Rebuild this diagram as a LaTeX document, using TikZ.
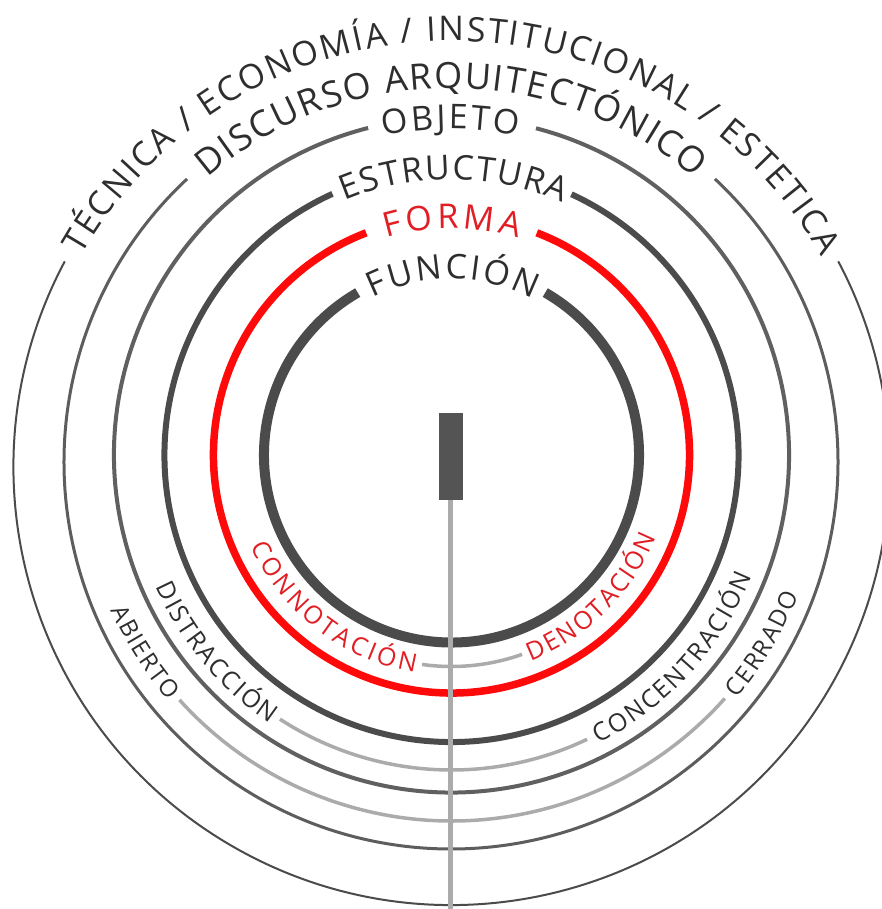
\documentclass[tikz,border=0pt]{standalone}
\usepackage{fontspec}
\setmainfont{Open Sans}
\usetikzlibrary{decorations.text}

\definecolor{ringdark}{HTML}{4B4B4B}
\definecolor{ringmid}{HTML}{606060}
\definecolor{ringred}{HTML}{FF0A0A}
\definecolor{ringlight}{HTML}{ABABAB}
\definecolor{txtdark}{HTML}{2E2E2E}
\definecolor{txtred}{HTML}{E01E24}

% font sizes for the curved labels
\newcommand\ringbig{\fontsize{36}{36}\selectfont}
\newcommand\ringmed{\fontsize{34}{34}\selectfont}
\newcommand\ringouter{\fontsize{34}{34}\selectfont}
\newcommand\ringsmall{\fontsize{25}{25}\selectfont}
\newcommand\ringtiny{\fontsize{24}{24}\selectfont}

\begin{document}
\begin{tikzpicture}[x=1pt,y=1pt,
  ringline/.style={line cap=butt},
  curvelabel/.style 2 args={decorate, decoration={text along path,
      text={|#1|#2}, text align=fit to path, text color=txtdark}},
  curvered/.style 2 args={decorate, decoration={text along path,
      text={|#1|#2}, text align=fit to path, text color=txtred}}
]
\useasboundingbox (-451.5,-454) rectangle (430.5,455);

% centres of the rings
\coordinate (c) at (0,0);
\coordinate (cd) at (-0.5,-7);
\coordinate (co) at (0,-12);

% ---- rings, each open at the top for its label ----
\draw[ringline, ringdark, line width=10]
  (c) ++(120:187.5) arc[start angle=120, end angle=420, radius=187.5];
\draw[ringline, ringred, line width=7.5]
  (c) ++(111:238) arc[start angle=111, end angle=429, radius=238];
\draw[ringline, ringdark, line width=6]
  (c) ++(114.5:287) arc[start angle=114.5, end angle=425.3, radius=287];
\draw[ringline, ringmid, line width=4]
  (c) ++(104.3:337.5) arc[start angle=104.3, end angle=435.5, radius=337.5];
\draw[ringline, ringdark!90, line width=3]
  (cd) ++(133:387) arc[start angle=133, end angle=407, radius=387];
\draw[ringline, ringdark, line width=2]
  (co) ++(152:438) arc[start angle=152, end angle=388, radius=438];

% ---- light arcs joining the lower labels ----
\draw[ringline, ringlight, line width=3.5]
  (c) ++(262:211.5) arc[start angle=262, end angle=289.5, radius=211.5];
\draw[ringline, ringlight, line width=3.5]
  (c) ++(237:315) arc[start angle=237, end angle=295.5, radius=315];
\draw[ringline, ringlight, line width=3.5]
  (c) ++(222:366) arc[start angle=222, end angle=318.3, radius=366];

% ---- upper labels ----
\path[curvelabel={\ringmed}{FUNCIÓN}]
  (c) ++(116.5:176) arc[start angle=116.5, end angle=62.5, radius=176];
\path[curvered={\ringmed}{FORMA}]
  (c) ++(106.7:226.5) arc[start angle=106.7, end angle=72.9, radius=226.5];
\path[curvelabel={\ringmed}{ESTRUCTURA}]
  (c) ++(112.8:275.5) arc[start angle=112.8, end angle=66.2, radius=275.5];
\path[curvelabel={\ringmed}{OBJETO}]
  (c) ++(102:326) arc[start angle=102, end angle=78.3, radius=326];
\path[curvelabel={\ringbig}{DISCURSO ARQUITECTÓNICO}]
  (cd) ++(130.5:374) arc[start angle=130.5, end angle=49.5, radius=374];
\path[curvelabel={\ringouter}{TÉCNICA / ECONOMÍA / INSTITUCIONAL / ESTETICA}]
  (co) ++(150.3:426) arc[start angle=150.3, end angle=29.6, radius=426];

% ---- lower labels ----
\path[curvered={\ringsmall}{CONNOTACIÓN}]
  (c) ++(204.5:220.5) arc[start angle=204.5, end angle=260.5, radius=220.5];
\path[curvered={\ringsmall}{DENOTACIÓN}]
  (c) ++(291:220.5) arc[start angle=291, end angle=338, radius=220.5];
\path[curvelabel={\ringsmall}{DISTRACCIÓN}]
  (c) ++(204:324) arc[start angle=204, end angle=236, radius=324];
\path[curvelabel={\ringsmall}{CONCENTRACIÓN}]
  (c) ++(297:324) arc[start angle=297, end angle=338, radius=324];
\path[curvelabel={\ringtiny}{ABIERTO}]
  (c) ++(204.5:374.5) arc[start angle=204.5, end angle=221, radius=374.5];
\path[curvelabel={\ringtiny}{CERRADO}]
  (c) ++(319.5:374.5) arc[start angle=319.5, end angle=338, radius=374.5];

% ---- central bar and its stem ----
\coordinate (stemtop) at (-1.5,-45);
\coordinate (stemend) at (-1.5,-454);
\draw[ringlight, line width=5] (stemtop) -- (stemend);
\fill[ringdark!95!white] (-12.5,-45) rectangle (11.5,42);
\end{tikzpicture}
\end{document}
